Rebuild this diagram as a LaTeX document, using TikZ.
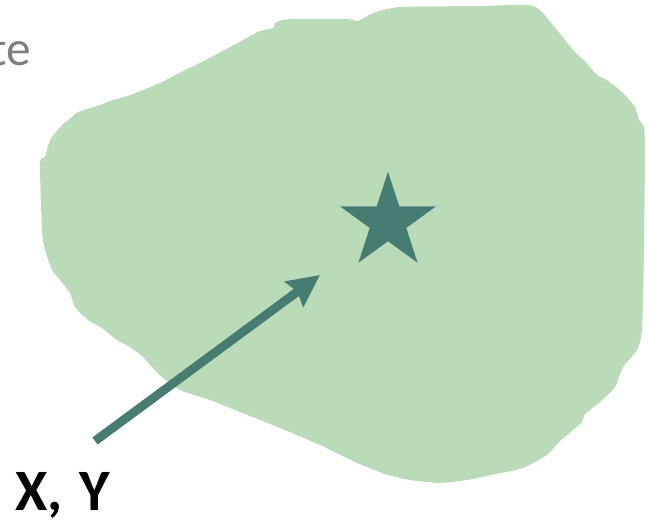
\documentclass[tikz,border=0pt]{standalone}
\usepackage{fontspec}
\setmainfont{Carlito}
\usetikzlibrary{shapes.geometric,arrows.meta}

\begin{document}
\begin{tikzpicture}[x=0.75pt,y=-0.75pt]
  \definecolor{blobfill}{RGB}{186,219,184}
  \definecolor{markteal}{RGB}{71,124,114}
  \definecolor{capgray}{RGB}{127,127,127}
  \useasboundingbox (0,0) rectangle (649,521);
  \fill[blobfill] plot[smooth cycle,tension=0.35] coordinates {
    (200,63) (243,40) (260,31) (273,28) (276,22) (292,19) (347,19) (358,21)
    (373,13) (400,7) (480,6) (525,5) (540,10) (575,52) (584,60) (597,75)
    (607,80) (623,93) (635,107) (639,120) (644,127) (645,150) (644,250)
    (642,330) (637,350) (623,367) (615,387) (600,402) (585,414) (582,422)
    (573,430) (559,442) (547,455) (523,468) (496,474) (467,480) (440,483)
    (410,480) (385,474) (355,462) (320,445) (280,428) (240,412) (210,400)
    (180,390) (160,375) (150,365) (143,357) (130,347) (117,340) (102,328)
    (88,320) (75,307) (70,293) (60,280) (52,270) (45,250) (42,230) (40,163)
    (45,157) (48,146) (52,137) (62,125) (72,117) (78,112) (100,105) (110,101)
    (130,95) (160,83) (185,70)};
  \node[star,star points=5,star point ratio=2.618,minimum size=75.5pt,
    inner sep=0pt,fill=markteal] (target) at (388,222) {};
  \coordinate (tail) at (95,441);
  \coordinate (tip) at (320,275);
  \draw[markteal,line width=6.6pt,-{Stealth[length=24pt,width=23pt,inset=3pt]}]
    (tail) -- (tip);
  \node[anchor=base west,inner sep=0pt,font=\fontsize{44}{44}\selectfont\bfseries]
    (coords) at (15,510) {X,\kern3pt\ Y};
  \node[anchor=base east,inner sep=0pt,text=capgray,font=\fontsize{37}{37}\selectfont]
    (cut) at (31,65) {te};
\end{tikzpicture}
\end{document}
